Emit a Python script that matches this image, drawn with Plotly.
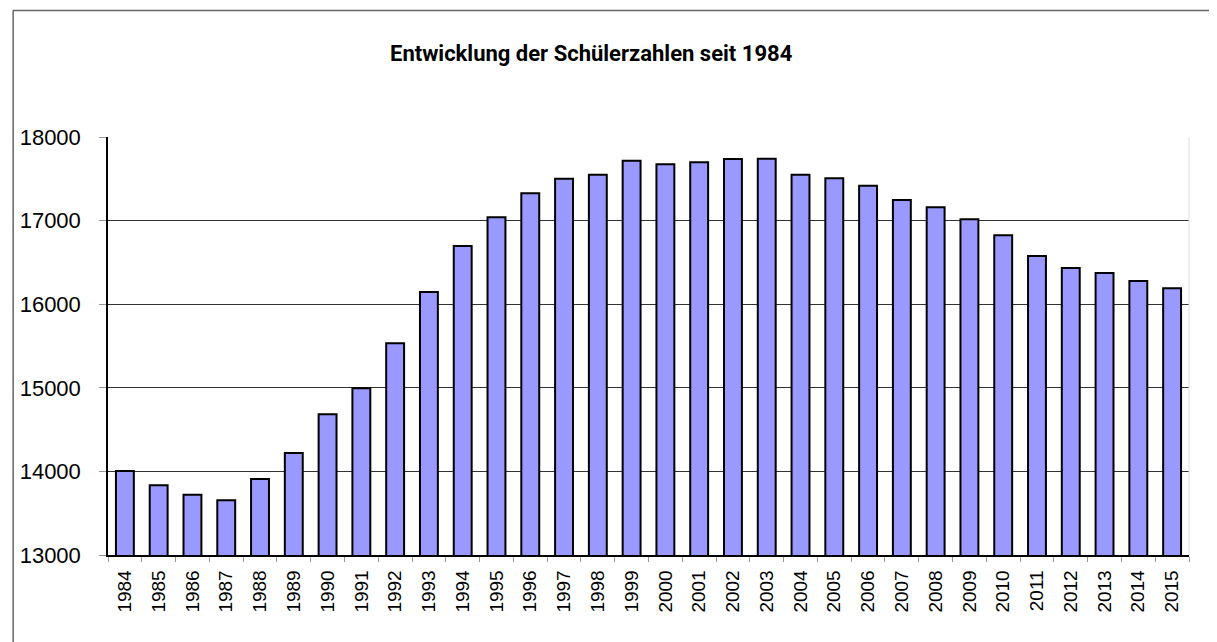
import plotly.graph_objects as go

years = [str(y) for y in range(1984, 2016)]
students = [14005, 13834, 13722, 13654, 13909, 14220, 14683, 14994, 15532, 16146,
            16696, 17039, 17326, 17502, 17549, 17717, 17673, 17697, 17737, 17741,
            17549, 17506, 17418, 17246, 17159, 17015, 16824, 16577, 16433, 16373,
            16278, 16190]
y_ticks = [13000, 14000, 15000, 16000, 17000, 18000]
title_text = "Entwicklung der Schülerzahlen seit 1984"

# page body has 8px margin, so the figure is placed at (8, 8)
W, H = 1209, 634
L, R, T, B = 96, 28, 129, 87
pw, ph = W - L - R, H - T - B

fig = go.Figure()
fig.add_trace(go.Bar(
    x=years, y=students, base=0,
    marker=dict(color="#9999FF", line=dict(color="#000000", width=2)),
    width=0.53,
))

fig.update_layout(
    width=W, height=H,
    margin=dict(l=L, r=R, t=T, b=B, pad=0),
    paper_bgcolor="white", plot_bgcolor="white",
    showlegend=False,
    font=dict(family="Liberation Sans, Arial, sans-serif", color="#000000"),
    bargap=0.47,
    xaxis=dict(
        type="category", tickangle=-90,
        tickfont=dict(size=19, family="Liberation Sans, Arial, sans-serif"),
        showgrid=False,
        ticks="outside", ticklen=5, tickcolor="#999999", tickson="boundaries",
        showline=True, linecolor="#000000", linewidth=1.5,
        range=[-0.5, len(years) - 0.5],
        ticklabelstandoff=6,
    ),
    yaxis=dict(
        range=[13000, 18000], tickvals=y_ticks,
        ticktext=[str(v) for v in y_ticks],
        tickfont=dict(size=22, family="Liberation Sans, Arial, sans-serif"),
        showgrid=True, gridcolor="#333333", gridwidth=1,
        ticks="outside", ticklen=7, tickcolor="#999999",
        showline=True, linecolor="#000000", linewidth=1.5,
        zeroline=False,
        ticklabelstandoff=14,
    ),
    shapes=[
        dict(type="line", xref="paper", yref="paper", x0=1, x1=1, y0=0, y1=1,
             line=dict(color="#dddddd", width=1)),
        dict(type="line", xref="paper", yref="paper",
             x0=(0.5 - L) / pw, x1=(W + 5 - L) / pw,
             y0=(H - B - 2.5) / ph, y1=(H - B - 2.5) / ph,
             line=dict(color="#666666", width=1.5)),
        dict(type="line", xref="paper", yref="paper",
             x0=(0.8 - L) / pw, x1=(0.8 - L) / pw,
             y0=(H - B - 2.5) / ph, y1=(H - B - H - 5) / ph,
             line=dict(color="#666666", width=1.5)),
    ],
    annotations=[
        dict(text="<b>" + title_text + "</b>", xref="paper", yref="paper",
             x=(581 - L) / pw, y=(H - B - 45) / ph, xanchor="center", yanchor="middle",
             showarrow=False,
             font=dict(size=22, family="Roboto, Arial, sans-serif", color="#000000")),
    ],
)

fig.write_html("out.html")
